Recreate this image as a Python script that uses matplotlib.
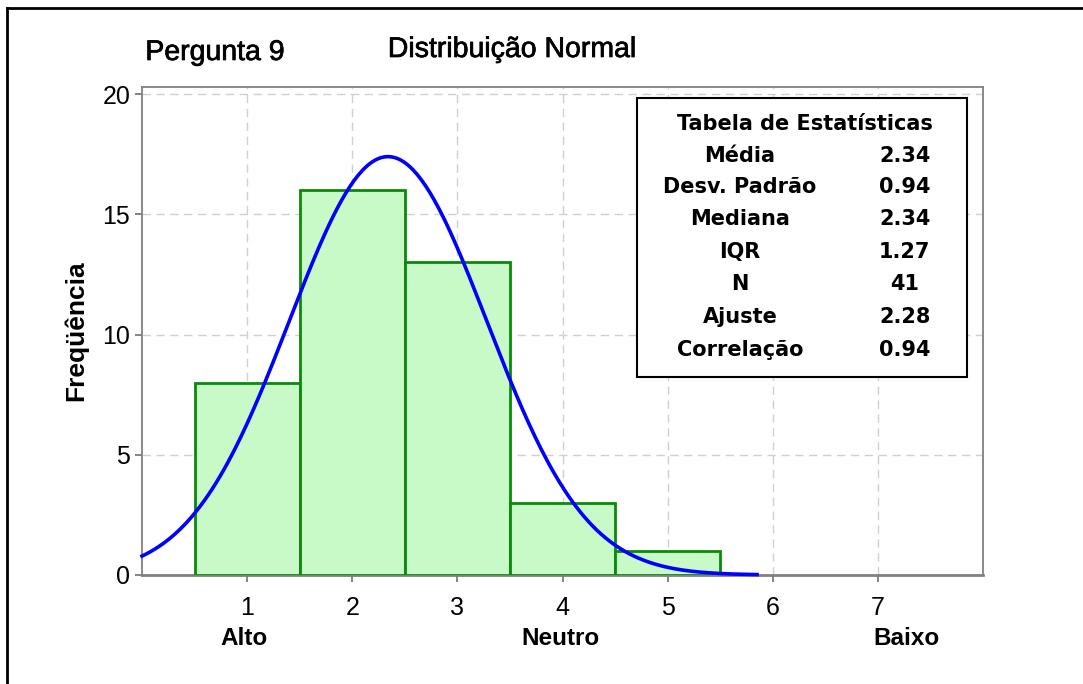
import numpy as np
import matplotlib
matplotlib.use("Agg")
import matplotlib.pyplot as plt
import matplotlib.patheffects as pe
from matplotlib.lines import Line2D

plt.rcParams['font.family'] = ['Liberation Sans', 'DejaVu Sans']

# histogram data (answer scale 1..7)
bin_centers = [1, 2, 3, 4, 5]
counts = [8, 16, 13, 3, 1]
x_ticks = [1, 2, 3, 4, 5, 6, 7]
y_ticks = [0, 5, 10, 15, 20]

# statistics table
stat_names = ['Média', 'Desv. Padrão', 'Mediana', 'IQR', 'N', 'Ajuste', 'Correlação']
stat_values = ['2.34', '0.94', '2.34', '1.27', '41', '2.28', '0.94']
mean, sd, n_obs = 2.34, 0.94, 41

scale_labels = ['Alto', 'Neutro', 'Baixo']
scale_pos = [0.97, 3.98, 7.27]

fig = plt.figure(figsize=(10.83, 6.84), dpi=100)
ax = fig.add_axes([0.1311, 0.1594, 0.7766, 0.7135])

# bars
ax.bar(bin_centers, counts, width=1.0, color='#c8fac8', edgecolor='#0a8a0a',
       linewidth=2, zorder=3)

# fitted normal curve (scaled to counts, bin width 1)
xs = np.linspace(0, 5.85, 300)
ys = n_obs * np.exp(-0.5 * ((xs - mean) / sd) ** 2) / (sd * np.sqrt(2 * np.pi))
ax.plot(xs, ys, color='#0000ff', lw=2.6, zorder=4, clip_on=False)

ax.set_xlim(0, 8)
ax.set_ylim(0, 20.3)
ax.set_xticks(x_ticks)
ax.set_yticks(y_ticks)
ax.tick_params(axis='both', labelsize=18, colors='#707070', labelcolor='black',
               length=5, width=1.2, direction='out')
ax.tick_params(axis='x', pad=10)
ax.grid(True, color='#d0d0d0', ls=(0, (6, 4)), lw=1, zorder=0)
for s in ax.spines.values():
    s.set_color('#808080')
    s.set_linewidth(1.3)
ax.spines['bottom'].set_linewidth(2)

ax.set_ylabel('Freqüência', fontsize=19, fontweight='bold', labelpad=10)

for lbl, pos in zip(scale_labels, scale_pos):
    ax.text(pos, -0.13, lbl, transform=ax.get_xaxis_transform(), ha='center',
            va='center', fontsize=17.5, fontweight='bold')

# medium-weight titles: regular font with a thin stroke
medium = [pe.withStroke(linewidth=0.5, foreground='black')]
fig.text(215 / 1083, 1 - 53 / 684, 'Pergunta 9', ha='center', va='center',
         fontsize=20.5, path_effects=medium)
fig.text(512 / 1083, 1 - 50 / 684, 'Distribuição Normal', ha='center', va='center',
         fontsize=20.5, path_effects=medium)

# statistics box
box = plt.Rectangle((0.589, 0.406), 0.392, 0.571, transform=ax.transAxes,
                    facecolor='white', edgecolor='black', lw=1.5, zorder=5)
ax.add_patch(box)
tfont = dict(family='DejaVu Sans', fontsize=15, fontweight='bold')
ax.text(0.788, 0.924, 'Tabela de Estatísticas', transform=ax.transAxes, ha='center',
        va='center', zorder=6, **tfont)
row_y = [0.859, 0.795, 0.730, 0.662, 0.596, 0.529, 0.461]
for name, val, yy in zip(stat_names, stat_values, row_y):
    ax.text(0.711, yy, name, transform=ax.transAxes, ha='center', va='center',
            zorder=6, **tfont)
    ax.text(0.907, yy, val, transform=ax.transAxes, ha='center', va='center',
            zorder=6, **tfont)

# outer frame lines (left and top)
fig.add_artist(Line2D([7 / 1083, 7 / 1083], [0, 1 - 8 / 684], color='black', lw=2,
                      transform=fig.transFigure))
fig.add_artist(Line2D([7 / 1083, 1], [1 - 8 / 684, 1 - 8 / 684], color='black', lw=2,
                      transform=fig.transFigure))

fig.savefig('out.png', dpi=100)
